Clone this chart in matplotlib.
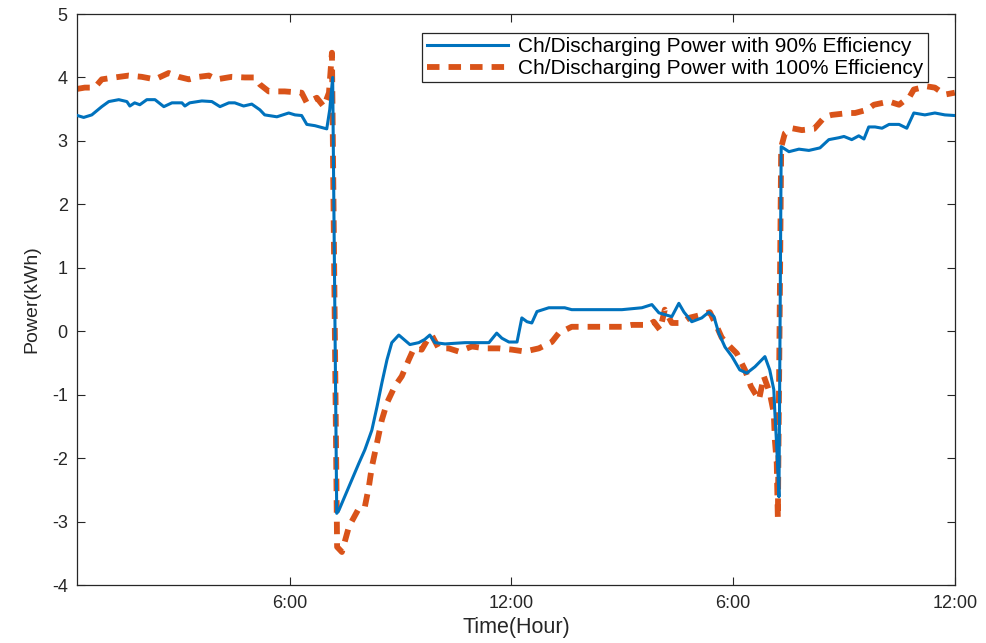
import matplotlib
matplotlib.use("Agg")
import matplotlib.pyplot as plt

plt.rcParams['font.family'] = ['Liberation Sans', 'DejaVu Sans']
plt.rcParams['lines.scale_dashes'] = False
plt.rcParams['axes.unicode_minus'] = False

# time in hours, power in kWh
t90 = [0.25, 0.42, 0.64, 0.91, 1.10, 1.37, 1.59, 1.67, 1.80, 1.94, 2.13, 2.35, 2.59, 2.81,
       3.08, 3.16, 3.29, 3.62, 3.89, 4.11, 4.35, 4.51, 4.75, 4.97, 5.19, 5.32, 5.65, 5.97,
       6.14, 6.32, 6.46, 6.68, 7.00, 7.08, 7.16, 7.27, 7.33, 7.60, 7.87, 8.03, 8.22, 8.36,
       8.49, 8.63, 8.76, 8.95, 9.09, 9.25, 9.49, 9.65, 9.79, 9.93, 10.20, 10.74, 11.39,
       11.60, 11.74, 11.93, 12.15, 12.28, 12.42, 12.55, 12.69, 13.01, 13.44, 13.63, 14.36,
       14.99, 15.53, 15.80, 15.99, 16.34, 16.53, 16.67, 16.88, 17.15, 17.34, 17.48, 17.61,
       17.78, 17.97, 18.18, 18.37, 18.59, 18.86, 18.99, 19.10, 19.13, 19.18, 19.24, 19.30,
       19.51, 19.78, 20.05, 20.35, 20.59, 20.86, 21.00, 21.21, 21.40, 21.54, 21.67, 21.84,
       22.03, 22.22, 22.49, 22.70, 22.89, 23.19, 23.46, 23.73, 24.00]
p90 = [3.40, 3.37, 3.41, 3.54, 3.62, 3.65, 3.62, 3.55, 3.60, 3.57, 3.65, 3.65, 3.54, 3.60,
       3.60, 3.55, 3.60, 3.63, 3.62, 3.54, 3.60, 3.60, 3.55, 3.58, 3.49, 3.41, 3.38, 3.44,
       3.41, 3.40, 3.26, 3.24, 3.19, 3.49, 4.00, -2.87, -2.82, -2.45, -2.08, -1.87, -1.56, -1.19,
       -0.82, -0.45, -0.18, -0.06, -0.13, -0.21, -0.18, -0.13, -0.06, -0.18, -0.20, -0.18, -0.18,
       -0.03, -0.11, -0.17, -0.17, 0.21, 0.15, 0.13, 0.31, 0.37, 0.37, 0.34, 0.34,
       0.34, 0.37, 0.42, 0.29, 0.23, 0.44, 0.30, 0.15, 0.21, 0.30, 0.23, -0.03,
       -0.25, -0.40, -0.61, -0.66, -0.56, -0.40, -0.61, -0.92, -1.29, -1.82, -2.61, 2.91,
       2.83, 2.87, 2.85, 2.89, 3.02, 3.05, 3.07, 3.02, 3.08, 3.03, 3.22, 3.22,
       3.20, 3.26, 3.26, 3.20, 3.44, 3.41, 3.44, 3.41, 3.40]

t100 = [0.25, 0.45, 0.72, 0.91, 1.26, 1.64, 1.99, 2.35, 2.72, 2.99, 3.27, 3.54, 3.81, 4.02,
        4.43, 4.78, 5.05, 5.19, 5.43, 5.86, 6.32, 6.46, 6.73, 6.92, 7.06, 7.14, 7.28, 7.41,
        7.60, 7.87, 8.03, 8.14, 8.22, 8.36, 8.49, 8.63, 8.84, 9.03, 9.22, 9.36, 9.57, 9.76,
        9.84, 10.03, 10.30, 10.57, 10.93, 11.28, 11.66, 12.01, 12.36, 12.74, 13.09, 13.28,
        13.63, 13.99, 14.45, 14.99, 15.26, 15.72, 15.85, 16.02, 16.15, 16.34, 16.61, 16.80,
        17.15, 17.37, 17.56, 17.69, 17.91, 18.10, 18.32, 18.48, 18.70, 18.83, 18.99, 19.10,
        19.13, 19.18, 19.21, 19.30, 19.40, 19.59, 19.86, 20.19, 20.48, 20.67, 21.13, 21.30,
        21.62, 21.81, 22.22, 22.49, 22.78, 22.89, 23.24, 23.46, 23.73, 24.00]
p100 = [3.82, 3.84, 3.84, 3.97, 4.00, 4.03, 4.01, 3.97, 4.07, 4.01, 3.97, 4.01, 4.03, 3.97,
        4.01, 4.00, 4.00, 3.89, 3.78, 3.78, 3.76, 3.60, 3.68, 3.54, 3.76, 4.39, -3.40, -3.48,
        -3.08, -2.79, -2.77, -2.45, -2.14, -1.76, -1.40, -1.13, -0.87, -0.71, -0.45, -0.27, -0.29, -0.10,
        -0.06, -0.27, -0.27, -0.32, -0.24, -0.27, -0.27, -0.29, -0.32, -0.27, -0.17, -0.03,
        0.07, 0.07, 0.07, 0.07, 0.10, 0.10, 0.15, 0.02, 0.34, 0.13, 0.13, 0.21,
        0.26, 0.30, 0.07, -0.10, -0.24, -0.35, -0.61, -0.87, -1.08, -0.71, -0.97, -1.29,
        -1.72, -2.08, -2.95, 2.90, 3.12, 3.20, 3.17, 3.19, 3.38, 3.41, 3.44, 3.44,
        3.49, 3.57, 3.62, 3.57, 3.70, 3.81, 3.86, 3.84, 3.73, 3.76]

xticks = [6, 12, 18, 24]
xticklabels = ['6:00', '12:00', '6:00', '12:00']
yticks = [-4, -3, -2, -1, 0, 1, 2, 3, 4, 5]
labels = ['Ch/Discharging Power with 90% Efficiency',
          'Ch/Discharging Power with 100% Efficiency']

fig = plt.figure(figsize=(9.87, 6.43), dpi=100)
ax = fig.add_axes([0.0784, 0.0902, 0.889, 0.888])

ax.plot(t90, p90, color='#0072BD', lw=2.2, label=labels[0], zorder=3)
ax.plot(t100, p100, color='#D95319', lw=4.2, dashes=(9, 6.5), label=labels[1], zorder=2)

ax.set_xlim(0.25, 24)
ax.set_ylim(-4, 5)
ax.set_xticks(xticks)
ax.set_xticklabels(xticklabels)
ax.set_yticks(yticks)
ax.tick_params(direction='in', length=6, width=0.8, top=True, right=True,
               labelsize=13, colors='#262626', pad=7)
for s in ax.spines.values():
    s.set_color('#262626')
    s.set_linewidth(0.9)

ax.set_xlabel('Time(Hour)', fontsize=15.5, color='#262626', labelpad=4)
ax.set_ylabel('Power(kWh)', fontsize=14, color='#262626', labelpad=8)

leg = ax.legend(loc='upper right', bbox_to_anchor=(0.969, 0.967), borderaxespad=0,
                fontsize=15, handlelength=3.9, frameon=True, fancybox=False,
                edgecolor='#262626', framealpha=1, borderpad=0.2, labelspacing=0.15,
                handletextpad=0.5)
leg.get_frame().set_linewidth(0.9)

fig.savefig('out.png', dpi=100)
